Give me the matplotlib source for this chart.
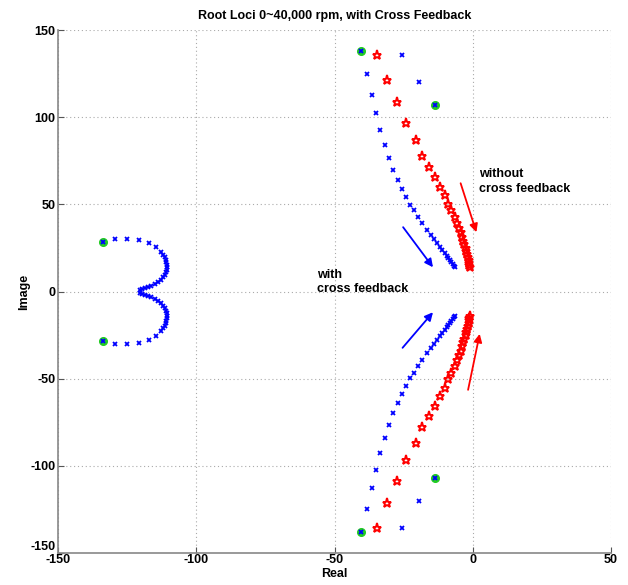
import matplotlib
matplotlib.use("Agg")
import matplotlib.pyplot as plt
import numpy as np

plt.rcParams['font.family'] = ['Liberation Sans', 'DejaVu Sans']
plt.rcParams['font.weight'] = 'bold'
plt.rcParams['axes.unicode_minus'] = False

# ---- data ----
# left loop (upper half; lower half mirrored)
loop_x = [-133.7, -129.5, -124.9, -120.7, -117.1, -114.4, -112.6, -112.0, -111.4, -111.0, -110.8,
          -110.6, -110.6, -110.7, -110.8, -111.3, -112.0, -112.8, -113.8, -115.0, -116.2, -117.4,
          -118.6, -119.5, -120.4]
loop_y = [28.3, 30.2, 30.2, 29.7, 27.7, 25.4, 22.7, 21.2, 19.7, 18.2, 16.8,
          15.3, 13.9, 12.5, 11.1, 9.6, 8.2, 6.7, 5.3, 4.3, 3.4, 2.6,
          1.9, 1.2, 0.6]

# with cross feedback, right branch (upper half)
with_x = [-40.3, -38.4, -36.6, -35.1, -33.4, -31.8, -30.3, -28.8, -27.2, -25.6, -24.0, -22.8,
          -21.3, -19.8, -18.2, -16.5, -15.2, -14.0, -12.9, -11.9, -11.0, -10.2, -9.5, -8.9,
          -8.3, -7.8, -7.3, -6.9, -6.5]
with_y = [137.7, 124.9, 113.0, 102.5, 92.9, 84.3, 76.7, 69.8, 64.1, 58.9, 54.1, 49.7,
          46.5, 42.6, 39.2, 35.4, 32.6, 30.0, 27.6, 25.5, 23.6, 21.9, 20.4, 19.1,
          17.9, 16.8, 15.8, 14.8, 13.9]

# with cross feedback, high-frequency branch (upper half)
hf_x = [-13.5, -19.4, -25.6]
hf_y = [107.1, 120.1, 135.4]

# without cross feedback (upper half)
wo_x = [-34.5, -30.9, -27.4, -24.0, -20.7, -18.2, -15.8, -13.5, -11.9, -10.1, -8.9, -7.7,
        -6.5, -5.7, -5.0, -4.4, -3.9, -3.4, -3.0, -2.6, -2.3, -2.0, -1.7, -1.5, -1.3, -1.2, -1.1]
wo_y = [135.8, 121.1, 108.6, 96.8, 87.0, 78.0, 71.3, 65.6, 59.8, 55.1, 50.3, 46.5,
        42.6, 39.5, 36.6, 33.9, 31.4, 29.1, 27.0, 25.0, 23.1, 21.3, 19.6, 18.0, 16.5, 15.1, 13.8]

# starting poles (green)
start_x = [-133.7, -40.3, -13.5]
start_y = [28.3, 137.7, 107.1]

xticks = [-150, -100, -50, 0, 50]
yticks = [-150, -100, -50, 0, 50, 100, 150]

fig = plt.figure(figsize=(6.28, 5.85), dpi=100)
ax = fig.add_axes([0.0924, 0.0547, 0.8806, 0.894])

def both(xs, ys):
    xs = np.asarray(xs); ys = np.asarray(ys)
    return np.concatenate([xs, xs]), np.concatenate([ys, -ys])

sx, sy = both(start_x, start_y)
ax.plot(sx, sy, 'o', color='#22cc22', ms=5.5, zorder=3)

for xs, ys in [(loop_x, loop_y), (with_x, with_y), (hf_x, hf_y)]:
    bx, by = both(xs, ys)
    ax.plot(bx, by, 'x', color='blue', ms=3.5, mew=1.3, zorder=4)

rx, ry = both(wo_x, wo_y)
ax.plot(rx, ry, '*', color='red', mfc='none', ms=6.5, mew=1.4, zorder=4)

# arrows
arrow_kw = dict(arrowstyle='-|>', lw=1.3, mutation_scale=12, shrinkA=0, shrinkB=0)
ax.annotate('', xy=(-14.4, 13.9), xytext=(-25.2, 36.9), arrowprops=dict(color='blue', **arrow_kw))
ax.annotate('', xy=(-14.4, -11.9), xytext=(-25.4, -32.3), arrowprops=dict(color='blue', **arrow_kw))
ax.annotate('', xy=(1.3, 34.0), xytext=(-4.4, 62.1), arrowprops=dict(color='red', **arrow_kw))
ax.annotate('', xy=(2.5, -24.3), xytext=(-1.7, -56.4), arrowprops=dict(color='red', **arrow_kw))

ax.text(2.2, 63, 'without\ncross feedback', fontsize=9, fontweight='bold', ha='left', va='center',
        linespacing=1.3)
ax.text(-56.5, 5.5, 'with\ncross feedback', fontsize=9, fontweight='bold', ha='left', va='center',
        linespacing=1.3)

ax.set_xlim(-150, 50)
ax.set_ylim(-150, 150)
ax.set_xticks(xticks)
ax.set_yticks(yticks)
ax.tick_params(direction='in', length=4, labelsize=9, width=0.8, color='#555555', pad=2)
ax.tick_params(axis='x', pad=1)
for lab in ax.get_xticklabels() + ax.get_yticklabels():
    lab.set_fontweight('bold')
# lowest y label sits just above the corner (as in the reference)
ax.get_yticklabels()[0].set_verticalalignment('bottom')
ax.grid(True, linestyle=(0, (1, 2.5)), color='#aaaaaa', lw=0.8)
ax.spines['top'].set_visible(False)
ax.spines['right'].set_visible(False)
ax.spines['left'].set_color('#888888')
ax.spines['bottom'].set_color('#888888')
ax.spines['left'].set_linewidth(1.2)
ax.spines['bottom'].set_linewidth(1.2)

ax.set_title('Root Loci 0~40,000 rpm, with Cross Feedback', fontsize=9, fontweight='bold', pad=8)
ax.set_xlabel('Real', fontsize=9, fontweight='bold', labelpad=1)
ax.set_ylabel('Image', fontsize=9, fontweight='bold', labelpad=0)

fig.savefig('out.png', dpi=100)
